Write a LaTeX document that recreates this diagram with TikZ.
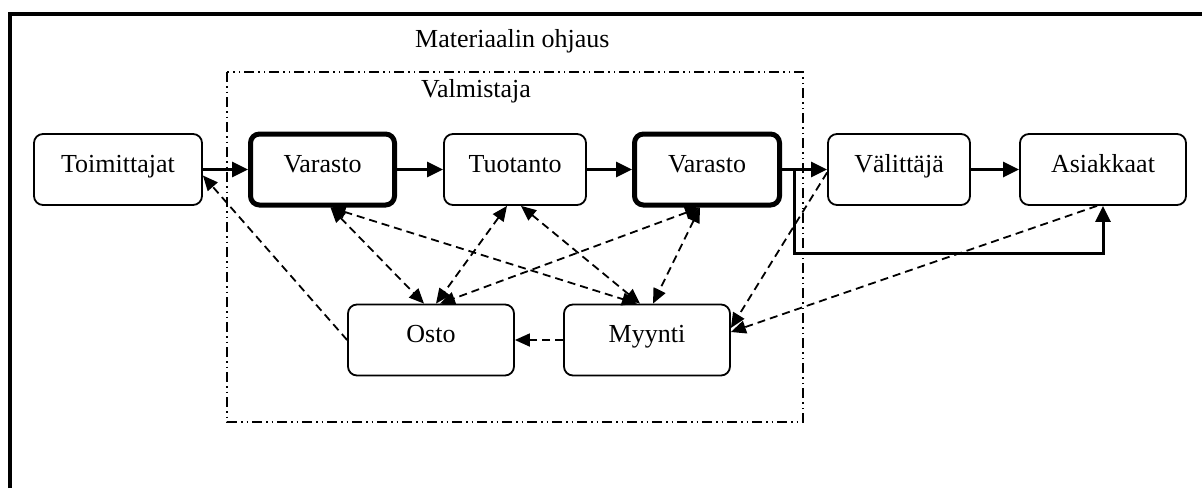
\documentclass[tikz,border=0pt]{standalone}
\usepackage{fontspec}
\setmainfont{Liberation Serif}
\usetikzlibrary{positioning}
\usetikzlibrary{arrows.meta}
\tikzset{
    box/.style = {rectangle,draw,rounded corners=9pt,line width=1.8pt,minimum height=71pt,text height=18pt,text depth=13pt,inner sep=0pt},
    store/.style = {box,line width=5pt},
    flow/.style = {line width=3pt,-{Triangle[length=16pt,width=15pt]}},
    info/.style = {line width=1.8pt,dash pattern=on 8pt off 5pt,-{Triangle[length=15pt,width=13pt]}},
    mutual/.style = {info,{Triangle[length=15pt,width=13pt]}-{Triangle[length=15pt,width=13pt]}},
    frame/.style = {line width=4pt},
    zone/.style = {line width=1.5pt,dash pattern=on 10pt off 4pt on 1.5pt off 4pt on 1.5pt off 4pt},
    caption/.style = {inner sep=0pt,anchor=base west}}

\begin{document}
\begin{tikzpicture}[x=1pt,y=-1pt,font=\fontsize{26}{30}\selectfont]
    \useasboundingbox (0,0) rectangle (1202,488);
    \draw[frame] (10,488) -- (10,14) -- (1202,14);
    \draw[zone] (227,72) rectangle (803,422);
    \node[caption] (ohjaus) at (415,47) {Materiaalin ohjaus};
    \node[caption] (valmistaja) at (421,97) {Valmistaja};
    \path (118,169.5) node[box,minimum width=168pt] (Toimittajat) {Toimittajat}
        ++ (204.5,0) node[store,minimum width=144pt] (Varasto1) {Varasto}
        ++ (192.5,0) node[box,minimum width=142pt] (Tuotanto) {Tuotanto}
        ++ (192,0) node[store,minimum width=145pt] (Varasto2) {Varasto}
        ++ (192,0) node[box,minimum width=142pt] (Valittaja) {Välittäjä}
        ++ (204,0) node[box,minimum width=166pt] (Asiakkaat) {Asiakkaat};
    \path (431,340) node[box,minimum width=166pt] (Osto) {Osto}
        ++ (216,0) node[box,minimum width=166pt] (Myynti) {Myynti};
    % material flow
    \draw[flow] (Toimittajat) -- (Varasto1);
    \draw[flow] (Varasto1) -- (Tuotanto);
    \draw[flow] (Tuotanto) -- (Varasto2);
    \draw[flow] (Varasto2) -- (Valittaja);
    \draw[flow] (Valittaja) -- (Asiakkaat);
    \coordinate (split) at ([xshift=12.5pt]Varasto2.east);
    \draw[flow] (split) -- ++(0,83.5) -| (Asiakkaat.south);
    % information flow
    \draw[info] (Osto.west) -- ([yshift=-6pt]Toimittajat.east);
    \draw[mutual] ([xshift=8pt]Varasto1.south) -- ([xshift=-7pt]Osto.north);
    \draw[mutual] ([xshift=8pt]Varasto1.south) -- ([xshift=-10pt]Myynti.north);
    \draw[mutual] ([xshift=-8pt]Tuotanto.south) -- ([xshift=5pt]Osto.north);
    \draw[mutual] ([xshift=6pt]Tuotanto.south) -- ([xshift=-7pt]Myynti.north);
    \draw[mutual] ([xshift=-7pt]Varasto2.south) -- ([xshift=9pt]Osto.north);
    \draw[mutual] ([xshift=-7pt]Varasto2.south) -- ([xshift=6pt]Myynti.north);
    \draw[info] ([yshift=-3pt]Valittaja.west) -- ([yshift=12pt]Myynti.east);
    \draw[info] ([xshift=-6pt]Asiakkaat.south) -- ([yshift=8pt]Myynti.east);
    \draw[info] (Myynti.west) -- (Osto.east);
\end{tikzpicture}
\end{document}
